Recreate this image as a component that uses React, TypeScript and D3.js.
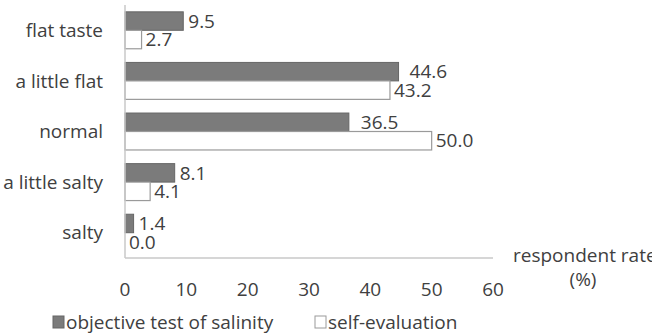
import React, { useRef, useEffect } from 'react';
import * as d3 from 'd3';

const categories = ['flat taste', 'a little flat', 'normal', 'a little salty', 'salty'];
const objectiveValues = [9.5, 44.6, 36.5, 8.1, 1.4];
const selfValues = [2.7, 43.2, 50.0, 4.1, 0.0];
const xTicks = [0, 10, 20, 30, 40, 50, 60];
const seriesNames = ['objective test of salinity', 'self-evaluation'];

const FONT = "'Open Sans', 'Noto Sans', sans-serif";
const TEXT = '#404040';
const FS = 19;

const App = () => {
  const chartRef = useRef<SVGSVGElement>(null);

  useEffect(() => {
    const root = d3.select(chartRef.current);
    root.selectAll('*').remove();

    const margin = { top: 5, left: 125 };
    const width = 368;
    const height = 253;

    const svg = root
      .attr('width', 652)
      .attr('height', 336)
      .style('font-family', FONT)
      .append('g')
      .attr('transform', `translate(${margin.left},${margin.top})`);

    const x = d3.scaleLinear().domain([0, 60]).range([0, width]);
    const y = d3.scaleBand().domain(categories).range([0, height]).paddingInner(0.27).paddingOuter(0.135);
    const barH = y.bandwidth() / 2;

    const rows = categories.map((c, i) => ({ c, obj: objectiveValues[i], self: selfValues[i] }));

    // objective bars
    svg
      .selectAll('.bar-obj')
      .data(rows)
      .enter()
      .append('rect')
      .attr('x', 0)
      .attr('y', (d) => y(d.c)!)
      .attr('width', (d) => x(d.obj))
      .attr('height', barH)
      .attr('fill', '#7b7b7b')
      .attr('stroke', '#666666')
      .attr('stroke-width', 1);

    // self-evaluation bars
    svg
      .selectAll('.bar-self')
      .data(rows)
      .enter()
      .append('rect')
      .attr('x', 0)
      .attr('y', (d) => y(d.c)! + barH)
      .attr('width', (d) => x(d.self))
      .attr('height', barH)
      .attr('fill', '#ffffff')
      .attr('stroke', '#9a9a9a')
      .attr('stroke-width', 1.2);

    // value labels (the two long rows get pushed a little further right)
    const nudge: Record<string, number> = { 'a little flat': 6, normal: 7 };
    svg
      .selectAll('.lbl-obj')
      .data(rows)
      .enter()
      .append('text')
      .attr('x', (d) => x(d.obj) + 5 + (nudge[d.c] || 0))
      .attr('y', (d) => y(d.c)! + barH / 2)
      .attr('dy', '0.35em')
      .attr('font-size', FS)
      .attr('fill', TEXT)
      .text((d) => d.obj.toFixed(1));

    svg
      .selectAll('.lbl-self')
      .data(rows)
      .enter()
      .append('text')
      .attr('x', (d) => x(d.self) + 4)
      .attr('y', (d) => y(d.c)! + barH * 1.5)
      .attr('dy', '0.35em')
      .attr('font-size', FS)
      .attr('fill', TEXT)
      .text((d) => d.self.toFixed(1));

    // axes lines
    svg.append('line').attr('x1', 0).attr('x2', 0).attr('y1', 0).attr('y2', height)
      .attr('stroke', '#c8c8c8').attr('stroke-width', 1.5);
    svg.append('line').attr('x1', 0).attr('x2', width).attr('y1', height).attr('y2', height)
      .attr('stroke', '#c8c8c8').attr('stroke-width', 1.5);

    // category labels
    svg
      .selectAll('.cat')
      .data(categories)
      .enter()
      .append('text')
      .attr('x', -22)
      .attr('y', (d) => y(d)! + y.bandwidth() / 2)
      .attr('dy', '0.35em')
      .attr('text-anchor', 'end')
      .attr('font-size', FS)
      .attr('fill', TEXT)
      .text((d) => d);

    // x tick labels
    svg
      .selectAll('.tick-lbl')
      .data(xTicks)
      .enter()
      .append('text')
      .attr('x', (d) => x(d))
      .attr('y', height + 31)
      .attr('dy', '0.35em')
      .attr('text-anchor', 'middle')
      .attr('font-size', FS)
      .attr('fill', TEXT)
      .text((d) => d);

    // axis title
    svg.append('text')
      .attr('x', 388).attr('y', height - 3).attr('dy', '0.35em')
      .attr('font-size', FS).attr('fill', TEXT)
      .text('respondent rate');
    svg.append('text')
      .attr('x', 458).attr('y', height + 21).attr('dy', '0.35em')
      .attr('text-anchor', 'middle')
      .attr('font-size', FS).attr('fill', TEXT)
      .text('(%)');

    // legend
    const legend = root.append('g').attr('transform', 'translate(0,322)').style('font-family', FONT);
    const items = [
      { name: seriesNames[0], x: 53, fill: '#7b7b7b', stroke: '#666666' },
      { name: seriesNames[1], x: 315, fill: '#ffffff', stroke: '#9a9a9a' },
    ];
    items.forEach((it) => {
      legend.append('rect').attr('x', it.x).attr('y', -6).attr('width', 11).attr('height', 12)
        .attr('fill', it.fill).attr('stroke', it.stroke);
      legend.append('text').attr('x', it.x + 13).attr('y', 0).attr('dy', '0.35em')
        .attr('font-size', FS).attr('fill', TEXT).text(it.name);
    });
  }, []);

  return (
    <svg ref={chartRef} style={{ position: 'absolute', left: 0, top: 0 }}></svg>
  );
};

export default App;
